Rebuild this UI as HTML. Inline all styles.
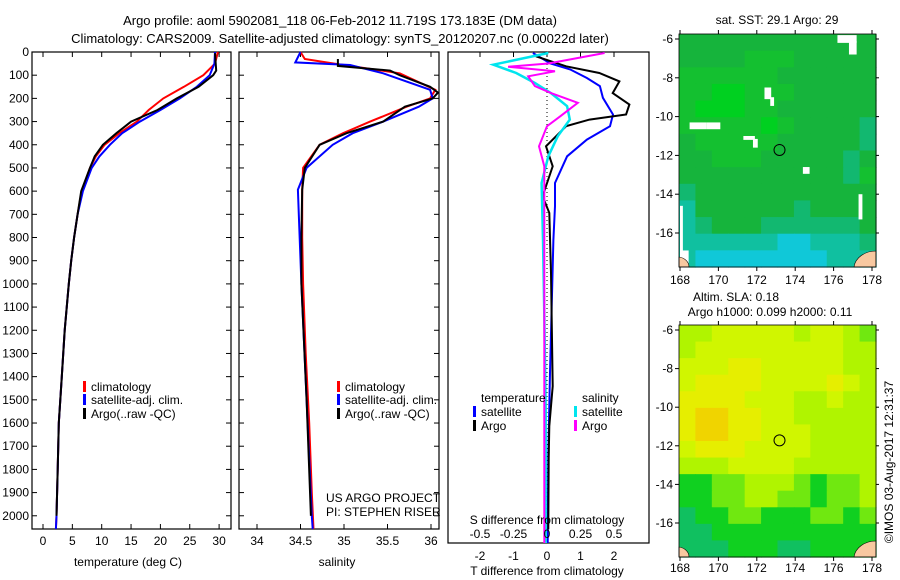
<!DOCTYPE html>
<html><head><meta charset="utf-8"><style>
body{margin:0;background:#fff;}
svg{display:block;font-family:"Liberation Sans",sans-serif;}
text{fill:#000;}
</style></head><body>
<svg id="fig" width="900" height="580" viewBox="0 0 900 580">
<text x="340" y="25" text-anchor="middle" font-size="13">Argo profile: aoml 5902081_118 06-Feb-2012 11.719S 173.183E (DM data)</text>
<text x="340" y="43" text-anchor="middle" font-size="13">Climatology: CARS2009. Satellite-adjusted climatology: synTS_20120207.nc (0.00022d later)</text>
<g id="g"></g>
</svg>
<script>
// ---------- data ----------
const depthTicks=[0,100,200,300,400,500,600,700,800,900,1000,1100,1200,1300,1400,1500,1600,1700,1800,1900,2000];
const tempTicks=[0,5,10,15,20,25,30];
const salTicks=[34,34.5,35,35.5,36];
const salTickLabels=["34","34.5","35","35.5","36"];
const tdiffTicks=[-2,-1,0,1,2];
const sdiffTicks=[-0.5,-0.25,0,0.25,0.5];
const sdiffTickLabels=["-0.5","-0.25","0","0.25","0.5"];
const lonTicks=[168,170,172,174,176,178];
const latTicks=[-6,-8,-10,-12,-14,-16];

const tClimDepth=[0,50,100,150,200,250,300,350,400,450,500,600,700,800,900,1000,1200,1400,1600,1800,2000,2057];
const tClim=[29.8,29.3,27.3,24,20.5,18,16,13,10.5,9,8,6.6,5.9,5.3,4.8,4.4,3.7,3.2,2.7,2.5,2.3,2.2];
const tSat=[29.3,29.2,28.4,26.2,23.3,20,16.5,13.5,11.4,9.6,8.3,6.8,5.9,5.3,4.8,4.4,3.7,3.2,2.7,2.5,2.3,2.2];
const tArgoDepth=[5,80,100,150,200,250,300,350,400,450,500,600,700,800,900,1000,1200,1400,1600,1800,2000];
const tArgo=[29.3,29.5,29,26.5,22.8,19.5,15,12.5,10.2,8.8,8,6.5,5.9,5.3,4.8,4.4,3.7,3.2,2.7,2.5,2.3];

const sClimDepth=[0,30,49,92,163,200,236,300,350,400,500,594,800,1000,1300,1600,1900,2057];
const sClim=[34.5,34.55,34.87,35.64,36.05,35.99,35.72,35.3,34.99,34.72,34.53,34.52,34.52,34.53,34.56,34.6,34.63,34.65];
const sSatDepth=[0,45,56,92,163,200,236,300,350,400,500,594,700,1000,1500,2000,2057];
const sSat=[34.5,34.44,35.07,35.45,35.99,36.02,35.86,35.45,35.1,34.87,34.57,34.47,34.48,34.51,34.57,34.63,34.64];
const sArgoDepth=[30,60,80,100,150,175,200,236,300,350,400,500,594,800,1000,1500,2000];
const sArgo=[34.93,34.93,35.53,35.64,35.99,36.08,36.02,35.7,35.45,35.03,34.72,34.55,34.52,34.51,34.51,34.57,34.62];

const dTSatDepth=[4,48,73,109,143,192,262,311,367,437,549,646,786,1065,1344,1693,2057];
const dTSat=[-0.42,0.1,0.69,1.19,1.58,1.67,1.97,1.88,1.19,0.6,0.24,0.24,0.19,0.14,0.09,0.04,0.02];
const dTArgoDepth=[18,60,88,123,172,220,262,283,311,353,395,479,604,674,926,1400,1567,1700,2000];
const dTArgo=[-0.33,0.57,1.56,2.16,1.96,2.46,2.36,1.27,0.57,0.27,-0.03,0.17,-0.13,0.07,0.12,0.17,0.07,0.05,0.04];
const dSSatDepth=[4,53,88,130,172,227,283,353,437,549,786,1100,1500,2057];
const dSSat=[0.01,-0.4,-0.23,-0.09,0.03,0.15,0.17,0.08,0.01,-0.04,-0.03,-0.02,-0.01,-0.01];
const dSArgoDepth=[4,48,62,81,102,143,172,213,269,311,395,479,786,1300,2057];
const dSArgo=[0.43,0.01,-0.29,0.06,-0.14,-0.09,0.03,0.23,0.1,0,-0.06,-0.02,-0.02,-0.02,-0.02];

const sstGrid=[
[6,6,6,6,6,6,6,6,6,6,6,6],[6,6,6,6,7,7,7,6,6,6,6,6],[7,7,7,7,7,7,6,6,6,6,6,6],
[7,7,8,8,7,7,7,6,6,6,6,6],[7,8,8,8,7,7,6,6,6,6,6,6],[7,7,7,7,7,8,7,6,6,6,6,5],
[6,7,7,7,7,7,6,6,6,6,6,5],[6,6,7,7,7,6,6,6,6,6,5,6],[6,6,6,6,6,6,6,6,6,6,5,7],
[5,6,6,6,6,6,6,6,6,6,6,6],[4,6,6,6,6,6,6,5,6,6,6,6],[4,5,6,6,6,5,5,5,5,5,5,6],
[4,4,4,4,4,4,3,3,4,4,4,5],[4,3,3,3,3,3,3,3,3,4,4,4]];
const slaGrid=[
[5,5,6,6,6,6,6,5,6,6,5,4],[5,6,6,6,6,6,6,6,6,6,5,5],[6,6,6,7,7,6,6,6,6,6,5,5],
[6,7,7,7,7,6,6,6,6,7,6,5],[7,7,7,7,6,6,6,5,5,6,5,5],[7,8,8,7,7,6,6,5,5,5,5,5],
[7,8,8,7,7,6,6,6,5,5,5,5],[6,7,7,7,6,6,6,6,5,5,5,5],[5,5,5,6,6,6,6,5,5,5,5,5],
[3,3,4,4,5,5,5,4,3,4,4,5],[3,3,4,4,5,5,4,4,3,4,4,5],[2,3,3,4,4,3,3,3,4,4,3,4],
[2,2,3,3,3,3,3,3,3,3,3,3],[2,2,2,3,3,3,2,2,3,3,3,3]];
const sstColors=["#20a8f0","#20a8f0","#20b8f0","#10c8d8","#10c0a0","#12b870","#16b43c","#14c030","#00d020","#00d020"];
const slaColors=["#10b870","#10b870","#10c060","#10d020","#70e810","#b0f400","#d0f600","#e6ee00","#f0d400","#f0c800"];
const argoLon=173.183, argoLat=-11.719;

// ---------- helpers ----------
const NS="http://www.w3.org/2000/svg";
const G=document.getElementById('g');
function el(tag,attrs,parent){const e=document.createElementNS(NS,tag);for(const k in attrs)e.setAttribute(k,attrs[k]);(parent||G).appendChild(e);return e;}
function txt(x,y,s,anchor,size){const t=el('text',{x:x,y:y,'text-anchor':anchor||'start','font-size':size||12});t.textContent=s;return t;}
function line(vals,deps,sx,sy,color,w,name){
  const pts=vals.map((v,i)=>sx(v).toFixed(1)+','+sy(deps[i]).toFixed(1)).join(' ');
  const p=el('polyline',{points:pts,fill:'none',stroke:color,'stroke-width':w||2});
  
  
}
function frame(x0,y0,x1,y1,name){const r=el('rect',{x:x0,y:y0,width:x1-x0,height:y1-y0,fill:'none',stroke:'#000','stroke-width':1.2});
  }
function legendEntry(x,y,color,label,name){
  const g=el('g',{});
  el('rect',{x:x,y:y-10,width:3,height:11,fill:color},g);
  const t=el('text',{x:x+8,y:y,'font-size':12},g);t.textContent=label;
}

// ---------- panel 1 : temperature ----------
const yTop=52, yBot=529;
const sy=d=>yTop+d*(yBot-yTop)/2057;
const p1={x0:32,x1:231};const sxT=v=>43+v*5.87;
frame(p1.x0,yTop,p1.x1,yBot,'temperature-panel');
depthTicks.forEach(d=>{const y=sy(d);el('line',{x1:p1.x0,y1:y,x2:p1.x0+5,y2:y,stroke:'#000'});el('line',{x1:p1.x1,y1:y,x2:p1.x1-5,y2:y,stroke:'#000'});
  const t=txt(29,y+4,String(d),'end');});
tempTicks.forEach(v=>{const x=sxT(v);el('line',{x1:x,y1:yBot,x2:x,y2:yBot-5,stroke:'#000'});el('line',{x1:x,y1:yTop,x2:x,y2:yTop+5,stroke:'#000'});
  const t=txt(x,545,String(v),'middle');});
txt(128,566,'temperature (deg C)','middle');
line(tClim,tClimDepth,sxT,sy,'#ff0000',2,'temp-climatology-line');
line(tSat,tClimDepth,sxT,sy,'#0000ff',2,'temp-satellite-line');
line(tArgo,tArgoDepth,sxT,sy,'#000000',2,'temp-argo-line');
legendEntry(83,391,'#ff0000','climatology','legend-climatology');
legendEntry(83,404,'#0000ff','satellite-adj. clim.','legend-satellite-adj');
legendEntry(83,418,'#000000','Argo(..raw -QC)','legend-argo');

// ---------- panel 2 : salinity ----------
const p2={x0:239,x1:439};const sxS=v=>257+(v-34)*87;
frame(p2.x0,yTop,p2.x1,yBot,'salinity-panel');
depthTicks.forEach(d=>{const y=sy(d);el('line',{x1:p2.x0,y1:y,x2:p2.x0+5,y2:y,stroke:'#000'});el('line',{x1:p2.x1,y1:y,x2:p2.x1-5,y2:y,stroke:'#000'});});
salTicks.forEach((v,i)=>{const x=sxS(v);el('line',{x1:x,y1:yBot,x2:x,y2:yBot-5,stroke:'#000'});el('line',{x1:x,y1:yTop,x2:x,y2:yTop+5,stroke:'#000'});
  const t=txt(x,545,salTickLabels[i],'middle');});
txt(337,566,'salinity','middle');
line(sClim,sClimDepth,sxS,sy,'#ff0000',2,'sal-climatology-line');
line(sSat,sSatDepth,sxS,sy,'#0000ff',2,'sal-satellite-line');
line(sArgo,sArgoDepth,sxS,sy,'#000000',2,'sal-argo-line');
legendEntry(337,391,'#ff0000','climatology','legend-sal-climatology');
legendEntry(337,404,'#0000ff','satellite-adj. clim.','legend-sal-satellite-adj');
legendEntry(337,418,'#000000','Argo(..raw -QC)','legend-sal-argo');
txt(326,502,'US ARGO PROJECT','start');
txt(326,516,'PI: STEPHEN RISER','start');

// ---------- panel 3 : differences ----------
const p3={x0:448,x1:649,yb:543};
const sy3=d=>yTop+d*(p3.yb-yTop)/2057;
const sxD=v=>547+v*33.5;const sxDS=v=>547+v*134;
frame(p3.x0,yTop,p3.x1,p3.yb,'difference-panel');
el('line',{x1:547,y1:yTop,x2:547,y2:p3.yb,stroke:'#000','stroke-dasharray':'1,3'});
tdiffTicks.forEach(v=>{const x=sxD(v);el('line',{x1:x,y1:yTop,x2:x,y2:yTop+5,stroke:'#000'});
  const t=txt(x,560,String(v),'middle');});
line(dTSat,dTSatDepth,sxD,sy3,'#0000ff',2,'tdiff-satellite-line');
line(dTArgo,dTArgoDepth,sxD,sy3,'#000000',2,'tdiff-argo-line');
line(dSSat,dSSatDepth,sxDS,sy3,'#00e5ee',2.5,'sdiff-satellite-line');
line(dSArgo,dSArgoDepth,sxDS,sy3,'#ff00ff',2,'sdiff-argo-line');
sdiffTicks.forEach((v,i)=>{const t=txt(sxDS(v),538,sdiffTickLabels[i],'middle');});
txt(547,524,'S difference from climatology','middle');
txt(547,575,'T difference from climatology','middle');
txt(481,402,'temperature','start');
txt(582,402,'salinity','start');
legendEntry(473,416,'#0000ff','satellite','legend-tdiff-satellite');
legendEntry(473,430,'#000000','Argo','legend-tdiff-argo');
legendEntry(574,416,'#00e5ee','satellite','legend-sdiff-satellite');
legendEntry(574,430,'#ff00ff','Argo','legend-sdiff-argo');

// ---------- maps ----------
function map(grid,colors,top,bot,latAt6,latAt16,name,labelY,gaps){
  const x0=679,x1=876;
  const mx=lon=>680+(lon-168)*19.2;
  const k=(latAt16-latAt6)/10;
  const my=lat=>latAt6+(-6-lat)*k;
  const g=el('g',{});
  const rows=grid.length,cols=grid[0].length;
  const cw=(x1-x0)/cols,ch=(bot-top)/rows;
  grid.forEach((r,i)=>r.forEach((v,j)=>{
    const c=el('rect',{x:(x0+j*cw).toFixed(2),y:(top+i*ch).toFixed(2),width:(cw+0.6).toFixed(2),height:(ch+0.6).toFixed(2),fill:colors[v]},g);
    
    
  }));
  if(gaps){gaps.forEach(q=>{el('rect',{x:mx(q[0]),y:my(q[1]),width:q[2]*19.2,height:q[3]*k,fill:'#fff'},g);});}
  el('path',{d:`M${x0} ${bot} l0 -10 a12 10 0 0 1 10 10z`,fill:'#f8c8a0',stroke:'#000','stroke-width':0.6},g);
  el('path',{d:`M${x1} ${bot-16} a22 18 0 0 0 -22 16 l22 0z`,fill:'#f8c8a0',stroke:'#000','stroke-width':0.6},g);
  el('rect',{x:x0,y:top,width:x1-x0,height:bot-top,fill:'none',stroke:'#000','stroke-width':0.8},g);
  lonTicks.forEach(l=>{const x=mx(l);el('line',{x1:x,y1:top,x2:x,y2:top-4,stroke:'#000'},g);el('line',{x1:x,y1:bot,x2:x,y2:bot+4,stroke:'#000'},g);
    const t=el('text',{x:x,y:labelY,'text-anchor':'middle','font-size':12},g);t.textContent=String(l);
    });
  latTicks.forEach(l=>{const y=my(l);el('line',{x1:x0,y1:y,x2:x0-4,y2:y,stroke:'#000'},g);el('line',{x1:x1,y1:y,x2:x1+3,y2:y,stroke:'#000'},g);
    const t=el('text',{x:673,y:y+4,'text-anchor':'end','font-size':12},g);t.textContent=String(l);
    });
  const m=el('circle',{cx:mx(argoLon),cy:my(argoLat),r:5.5,fill:'none',stroke:'#000','stroke-width':1},g);
  
}
const sstGaps=[[176.2,-5.8,1,0.4],[176.8,-6.1,0.4,0.7],[169.4,-10.3,0.7,0.35],[168.5,-10.3,0.9,0.35],[172.4,-8.5,0.35,0.6],[172.7,-9.0,0.2,0.45],[171.3,-11.0,0.6,0.2],[171.8,-11.15,0.25,0.45],[174.4,-12.6,0.35,0.35],[177.3,-14.0,0.2,1.3],[168,-14.6,0.15,3.2],[168.1,-16.9,0.35,1]];
map(sstGrid,sstColors,34,267,39,233,'sst-map',284,sstGaps);
map(slaGrid,slaColors,325,557,330,523,'sla-map',572,null);
txt(777,24,'sat. SST: 29.1  Argo: 29','middle');
txt(736,301,'Altim. SLA: 0.18','middle');
txt(770,316,'Argo h1000: 0.099 h2000: 0.11','middle');
const cr=txt(0,0,'©IMOS 03-Aug-2017 12:31:37','middle');
cr.setAttribute('transform','translate(893,462) rotate(-90)');


</script>
</body></html>
